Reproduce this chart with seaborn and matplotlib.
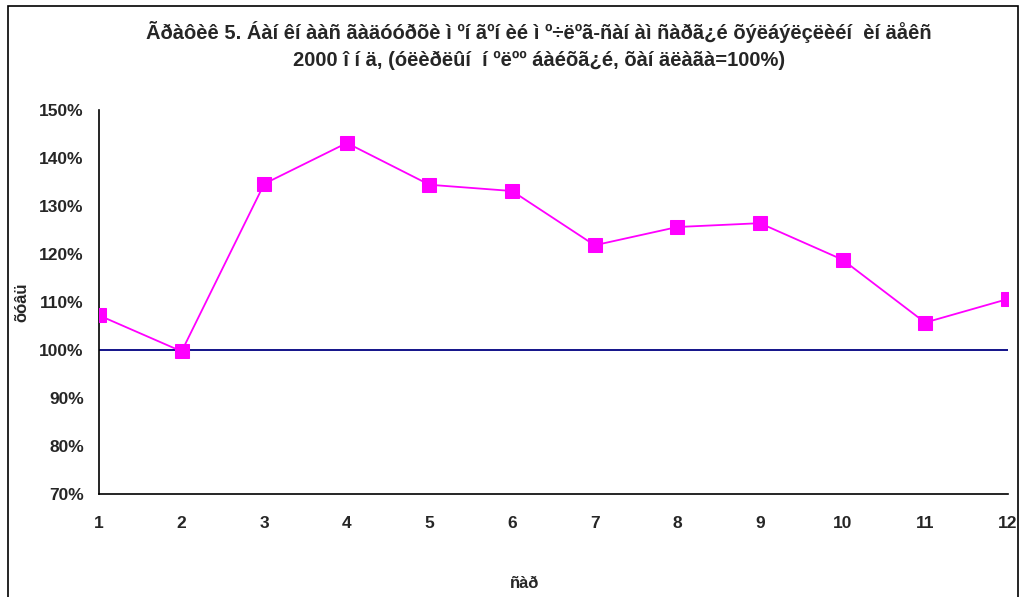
import pandas as pd
import seaborn as sns
import matplotlib.pyplot as plt
from matplotlib.ticker import PercentFormatter
from matplotlib.patches import Rectangle

# --- data ---
months = [1, 2, 3, 4, 5, 6, 7, 8, 9, 10, 11, 12]
values = [107.2, 99.7, 134.6, 143.1, 134.4, 133.1, 121.8, 125.6, 126.4, 118.8, 105.7, 110.6]
base_level = 100

title = ("Ãðàôèê 5. Áàí êí ààñ ãàäóóðõè ì ºí ãºí èé ì º÷ëºã-ñàí àì ñàðã¿é õýëáýëçëèéí  èí äåêñ\n"
         "2000 î í ä, (óëèðëûí  í ºëºº áàéõã¿é, õàí äëàãà=100%)")
xlabel = "ñàð"
ylabel = "õóâü"

df = pd.DataFrame({"month": months, "value": values})

sns.set_style("white")
plt.rcParams['font.family'] = ['Liberation Sans', 'DejaVu Sans']

fig = plt.figure(figsize=(10.21, 5.97), dpi=100)
ax = fig.add_axes([0.097, 0.1725, 0.890, 0.6435])

ax.axhline(base_level, color="#000080", lw=1.3, zorder=1)
sns.lineplot(data=df, x="month", y="value", ax=ax, color="#FF00FF", lw=1.3,
             marker="s", markersize=10, markeredgecolor="#FF00FF", zorder=3)

ax.set_xlim(1, 12)
ax.set_ylim(70, 150)
ax.set_xticks(months)
ax.set_yticks(range(70, 151, 10))
ax.yaxis.set_major_formatter(PercentFormatter(decimals=0))

for s in ["top", "right"]:
    ax.spines[s].set_visible(False)
for s in ["left", "bottom"]:
    ax.spines[s].set_color("black")
    ax.spines[s].set_linewidth(1.2)
    ax.spines[s].set_clip_on(False)

ax.tick_params(axis="both", direction="out", length=5, width=1.2, color="black",
               labelsize=12.5)
ax.tick_params(axis="x", pad=11)
ax.tick_params(axis="y", pad=6)
for lab in ax.get_xticklabels() + ax.get_yticklabels():
    lab.set_fontweight("bold")

ax.set_xlabel(xlabel, fontsize=12, fontweight="bold", labelpad=0)
ax.xaxis.set_label_coords(0.468, -0.213)
ax.set_ylabel(ylabel, fontsize=12, fontweight="bold")
ax.yaxis.set_label_coords(-0.077, 0.5)

fig.text(0.528, 0.924, title, ha="center", va="center", fontsize=14.5,
         fontweight="semibold", linespacing=1.5)

# frame around the whole chart
fig.patches.append(Rectangle((8 / 1021, -0.01), 1010 / 1021, 1.0 - 6 / 597 + 0.01,
                             transform=fig.transFigure, fill=False,
                             edgecolor="black", lw=1.2))

fig.savefig("out.png", dpi=100)
